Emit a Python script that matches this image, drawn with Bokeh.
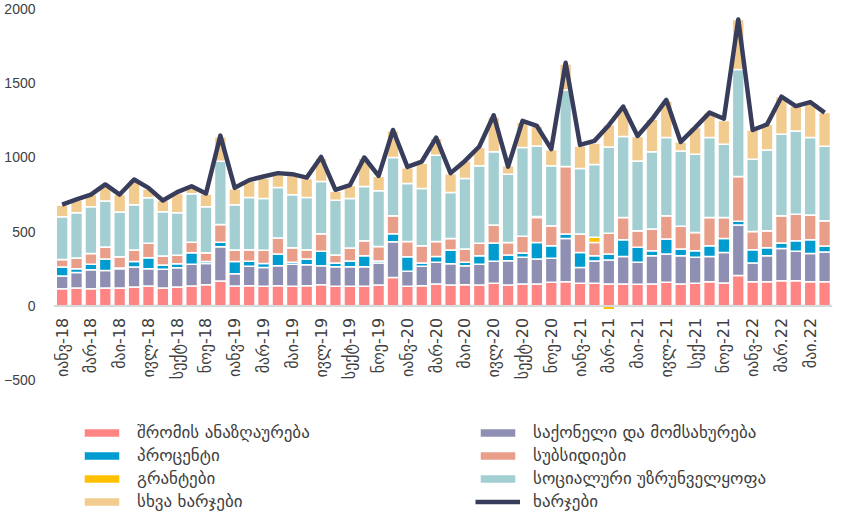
import numpy as np
from bokeh.plotting import figure
from bokeh.models import ColumnDataSource, Legend, LegendItem, FixedTicker, Range1d, Span
from bokeh.core.properties import value
from bokeh.embed import file_html
from bokeh.resources import INLINE

months = [
    "იანვ-18", "თებ-18", "მარ-18", "აპრ-18", "მაი-18", "ივნ-18", "ივლ-18", "აგვ-18", "სექტ-18", "ოქტ-18", "ნოე-18", "დეკ-18",
    "იანვ-19", "თებ-19", "მარ-19", "აპრ-19", "მაი-19", "ივნ-19", "ივლ-19", "აგვ-19", "სექტ-19", "ოქტ-19", "ნოე-19", "დეკ-19",
    "იანვ-20", "თებ-20", "მარ-20", "აპრ-20", "მაი-20", "ივნ-20", "ივლ-20", "აგვ-20", "სექტ-20", "ოქტ-20", "ნოე-20", "დეკ-20",
    "იანვ-21", "თებ-21", "მარ-21", "აპრ-21", "მაი-21", "ივნ-21", "ივლ-21", "აგვ-21", "სექ-21", "ოქტ-21", "ნოე-21", "დეკ-21",
    "იანვ-22", "თებ.22", "მარ.22", "აპრ.22", "მაი.22", "ივნ.22",
]

labor = [116, 121, 116, 121, 121, 128, 134, 121, 128, 134, 143, 168,
         134, 136, 132, 136, 132, 136, 143, 132, 132, 132, 141, 192,
         132, 136, 148, 141, 143, 141, 152, 141, 148, 148, 159, 163,
         152, 152, 148, 148, 145, 148, 159, 148, 152, 163, 154, 204,
         163, 163, 170, 170, 163, 163]
goods = [85, 103, 128, 118, 129, 134, 116, 125, 129, 146, 143, 230,
         83, 130, 127, 135, 148, 141, 128, 132, 132, 132, 148, 240,
         101, 130, 145, 143, 128, 139, 148, 163, 179, 167, 161, 291,
         107, 150, 161, 185, 148, 190, 190, 190, 175, 170, 206, 340,
         126, 175, 217, 197, 190, 200]
interest = [61, 26, 36, 76, 5, 36, 74, 29, 27, 78, 12, 31,
            81, 34, 27, 78, 13, 38, 96, 25, 38, 74, 13, 53,
            98, 23, 40, 92, 22, 58, 123, 38, 29, 112, 85, 29,
            101, 36, 40, 112, 101, 33, 101, 45, 44, 72, 94, 26,
            89, 53, 36, 71, 92, 40]
subsidies = [51, 72, 73, 81, 76, 78, 97, 61, 56, 71, 60, 119,
             78, 78, 88, 107, 98, 63, 118, 53, 87, 100, 98, 121,
             103, 116, 101, 78, 90, 83, 121, 85, 112, 168, 134, 454,
             123, 89, 139, 150, 112, 146, 156, 152, 123, 190, 141, 300,
             123, 115, 183, 179, 166, 170]
grants = [0, 0, 0, 0, 0, 0, 0, 0, 0, 0, 0, 0,
          0, 0, 0, 0, 0, 0, 0, 0, 0, 0, 0, 0,
          0, 0, 0, 0, 0, 0, 0, 0, 0, 6, 0, 0,
          0, 34, -25, 0, 0, 0, 0, 0, 0, 0, 0, 0,
          0, 0, 0, 0, 0, 0]
social = [287, 304, 314, 309, 300, 304, 306, 297, 286, 325, 309, 425,
          304, 351, 349, 340, 356, 351, 352, 369, 334, 365, 374, 392,
          389, 385, 579, 309, 474, 521, 492, 459, 597, 475, 403, 515,
          441, 490, 581, 544, 469, 519, 526, 507, 526, 537, 492, 720,
          486, 543, 548, 560, 521, 500]
other = [78, 85, 82, 112, 118, 170, 60, 76, 130, 51, 85, 165,
         108, 110, 135, 88, 130, 128, 158, 60, 87, 190, 98, 180,
         107, 170, 115, 125, 120, 125, 235, 56, 170, 134, 108, 175,
         152, 145, 150, 190, 164, 219, 246, 61, 179, 168, 160, 336,
         196, 172, 253, 167, 239, 227]
total = [682, 716, 749, 817, 749, 850, 794, 709, 765, 805, 756, 1145,
         794, 846, 870, 893, 886, 863, 1002, 781, 812, 998, 875, 1183,
         935, 971, 1132, 893, 975, 1072, 1282, 937, 1244, 1210, 1054, 1635,
         1083, 1110, 1215, 1340, 1143, 1255, 1385, 1103, 1199, 1300, 1259, 1926,
         1183, 1221, 1407, 1344, 1371, 1300]

series_names = ["შრომის ანაზღაურება", "საქონელი და მომსახურება", "პროცენტი", "სუბსიდიები",
                "გრანტები", "სოციალური უზრუნველყოფა", "სხვა ხარჯები"]
line_name = "ხარჯები"
y_ticks = [-500, 0, 500, 1000, 1500, 2000]

colors = ["#FF8585", "#8E8FB2", "#009CCF", "#E89E89", "#FFC000", "#A3CFD2", "#F2CB8E"]
line_color = "#383D5C"
text_color = "#404040"

series = [labor, goods, interest, subsidies, grants, social, other]
x = np.arange(len(months))

NUM_FONT = "Liberation Sans"
GEO_FONT = "DejaVu Sans"
p = figure(width=834, frame_height=504, output_backend="svg", toolbar_location=None,
           x_range=Range1d(-0.6, len(months) - 0.45), y_range=Range1d(-1389, 2000),
           x_axis_location=None,
           min_border_top=8, min_border_bottom=0, min_border_right=2, min_border_left=4)
p.outline_line_color = None
p.xgrid.visible = False
p.ygrid.visible = False

pos_base = np.zeros(len(months))
neg_base = np.zeros(len(months))
renderers = []
for vals, col in zip(series, colors):
    v = np.array(vals, dtype=float)
    bottom = np.where(v >= 0, pos_base, neg_base)
    top = bottom + v
    pos_base = np.where(v >= 0, top, pos_base)
    neg_base = np.where(v < 0, top, neg_base)
    src = ColumnDataSource(dict(x=x, bottom=bottom, top=top))
    r = p.vbar(x="x", bottom="bottom", top="top", width=0.82, source=src,
               fill_color=col, line_color="white", line_width=1.5)
    renderers.append(r)

p.add_layout(Span(location=0, dimension="width", line_color="#D9D9D9", line_width=2))

lsrc = ColumnDataSource(dict(x=x, y=total))
lr = p.line(x="x", y="y", source=lsrc, line_color=line_color, line_width=4.5, line_join="round")

# month labels along the zero line (every second month)
tick_idx = x[::2]
tsrc = ColumnDataSource(dict(x=tick_idx, y=np.zeros(len(tick_idx)),
                             t=[months[i] for i in tick_idx]))
p.text(x="x", y="y", text="t", source=tsrc, angle=np.pi / 2, text_align="right",
       text_baseline="middle", y_offset=12, text_font=value(GEO_FONT),
       text_font_size="16px", text_color=text_color)

p.yaxis.ticker = FixedTicker(ticks=y_ticks)
p.yaxis.axis_line_color = None
p.yaxis.major_tick_line_color = None
p.yaxis.minor_tick_line_color = None
p.yaxis.major_label_standoff = 12
p.yaxis.major_label_text_font = NUM_FONT
p.yaxis.major_label_text_font_size = "14px"
p.yaxis.major_label_text_color = text_color

items = [LegendItem(label=n, renderers=[r]) for n, r in zip(series_names, renderers)]
items.append(LegendItem(label=line_name, renderers=[lr]))
legend = Legend(items=items, orientation="horizontal", ncols=2, location=(26, 1), margin=0,
                padding=0, spacing=3, glyph_width=45, glyph_height=11, label_height=18,
                label_width=335, label_standoff=13, label_text_font=GEO_FONT,
                label_text_font_size="17px", label_text_color=text_color,
                border_line_color=None, background_fill_alpha=0)
p.add_layout(legend, "center")

open("out.html", "w").write(file_html(p, INLINE))
